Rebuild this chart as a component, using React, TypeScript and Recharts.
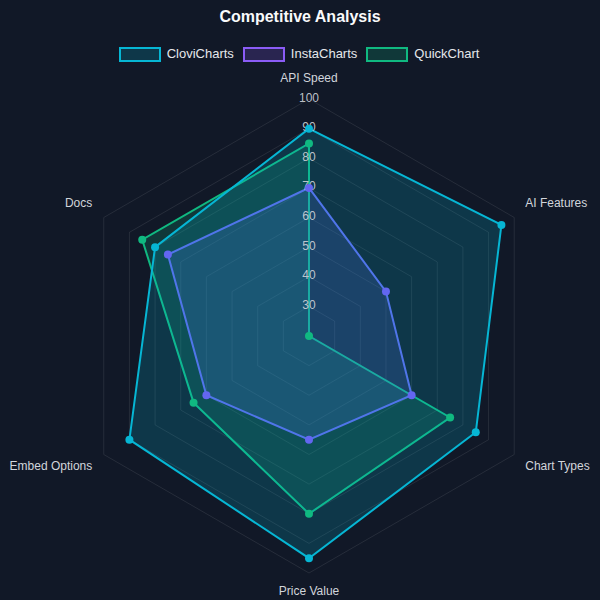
import React from 'react';
import { RadarChart, Radar, PolarGrid, PolarAngleAxis, PolarRadiusAxis } from 'recharts';

const categories = ['API Speed', 'AI Features', 'Chart Types', 'Price Value', 'Embed Options', 'Docs'];
const cloviCharts = [90, 95, 85, 95, 90, 80];
const instaCharts = [70, 50, 60, 55, 60, 75];
const quickChart = [85, 20, 75, 80, 65, 85];
const seriesNames = ['CloviCharts', 'InstaCharts', 'QuickChart'];
const seriesColors = ['#06b6d4', '#6366f1', '#10b981'];
const legendColors = ['#06b6d4', '#8b5cf6', '#10b981'];
const radiusTicks = [30, 40, 50, 60, 70, 80, 90, 100];
const radiusDomain = [20, 100];

const data = categories.map((c, i) => ({
  axis: c,
  CloviCharts: cloviCharts[i],
  InstaCharts: instaCharts[i],
  QuickChart: quickChart[i],
}));

const CX = 309;
const CY = 336;
const R = 237;
const FONT = '"Liberation Sans", Arial, Helvetica, sans-serif';

function AngleTick(props: any) {
  const { payload, index } = props;
  const angle = typeof payload?.coordinate === 'number' ? payload.coordinate : 90 - index * 60;
  const rad = (angle * Math.PI) / 180;
  const cos = Math.cos(rad);
  const sin = Math.sin(rad);
  const vx = CX + R * cos;
  const vy = CY - R * sin;
  let x = vx;
  let y = vy;
  let anchor: 'start' | 'middle' | 'end' = 'middle';
  if (Math.abs(cos) < 0.01) {
    y = vy + (sin > 0 ? -21.5 : 18);
  } else {
    x = vx + (cos > 0 ? 11 : -11.5);
    y = vy + (sin > 0 ? -15 : 11.5);
    anchor = cos > 0 ? 'start' : 'end';
  }
  return (
    <text x={x} y={y} textAnchor={anchor} dominantBaseline="central" fill="#d1d5db" fontSize={12} fontFamily={FONT}>
      {payload.value}
    </text>
  );
}

function RadiusTick(props: any) {
  const { x, y, payload } = props;
  if (payload.value === 20) return null;
  return (
    <text x={x} y={y - 1.5} textAnchor="middle" dominantBaseline="central" fill="#d1d5db" fillOpacity={0.9} fontSize={12} fontFamily={FONT}>
      {payload.value}
    </text>
  );
}

export default function App() {
  const order = [2, 1, 0];
  return (
    <div style={{ position: 'fixed', left: 0, top: 0, width: 600, height: 600, background: '#111827', fontFamily: FONT }}>
      <div style={{ position: 'absolute', top: 7, left: 0, width: 600, textAlign: 'center', color: '#f9fafb', fontSize: 16, fontWeight: 'bold', lineHeight: '20px' }}>
        Competitive Analysis
      </div>
      <div style={{ position: 'absolute', top: 46, left: 0, width: 598, display: 'flex', justifyContent: 'center', alignItems: 'center', gap: 9 }}>
        {seriesNames.map((n, i) => (
          <div key={n} style={{ display: 'flex', alignItems: 'center' }}>
            <div style={{ width: 38, height: 11, border: `2px solid ${legendColors[i]}`, background: legendColors[i] + '33', marginRight: 6 }} />
            <span style={{ color: '#e5e7eb', fontSize: 13, lineHeight: '16px' }}>{n}</span>
          </div>
        ))}
      </div>
      <div style={{ position: 'absolute', left: 0, top: 0 }}>
        <RadarChart width={600} height={600} data={data} cx={CX} cy={CY} outerRadius={R} startAngle={90} endAngle={-270} margin={{ top: 0, right: 0, bottom: 0, left: 0 }}>
          <PolarGrid gridType="polygon" radialLines={false} stroke="#ffffff" strokeOpacity={0.09} />
          <PolarAngleAxis dataKey="axis" tick={<AngleTick />} axisLine={false} tickLine={false} />
          {order.map((i) => (
            <Radar
              key={seriesNames[i]}
              name={seriesNames[i]}
              dataKey={seriesNames[i]}
              stroke={seriesColors[i]}
              strokeWidth={2}
              fill={seriesColors[i]}
              fillOpacity={0.2}
              dot={{ r: 4, fill: seriesColors[i], stroke: seriesColors[i], strokeWidth: 0, fillOpacity: 1 }}
              isAnimationActive={false}
            />
          ))}
          <PolarRadiusAxis angle={90} domain={radiusDomain} ticks={radiusTicks} axisLine={false} tickLine={false} tick={<RadiusTick />} />
        </RadarChart>
      </div>
    </div>
  );
}
